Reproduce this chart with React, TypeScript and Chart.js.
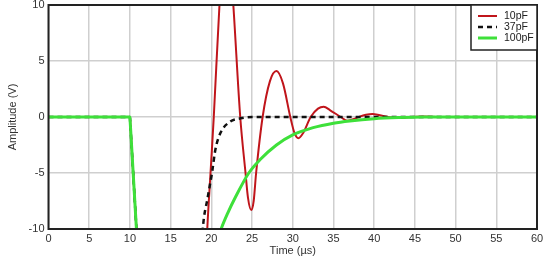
import React, { useEffect, useRef } from "react";
import { Chart, registerables } from "chart.js";

Chart.register(...registerables);

const xTicksMax = 60;
const yTicksMin = -10;
const yTicksMax = 10;
const tickStep = 5;

const seriesLabels = ["10pF", "37pF", "100pF"];
const seriesColors = ["#c0151b", "#111111", "#3ee03a"];

const time10pF = [0, 10, 10.02, 10.8, 11.6, 19, 19.2, 19.5, 19.9, 20.3, 21.0, 21.4, 21.85, 22.3, 22.7, 23.55, 24.2, 24.5, 24.9, 25.2, 25.5, 26.3, 27.2, 28.0, 28.8, 29.7, 30.2, 30.7, 31.3, 32.2, 33.1, 33.8, 34.6, 35.9, 36.7, 37.4, 38.1, 39.0, 39.8, 40.7, 41.7, 43.0, 44.5, 46.0, 48.0, 60];
const amp10pF = [0, 0, -0.25, -10, -20, -20, -15, -10, -5, 0, 10, 14, 15.5, 14, 10, 0, -5, -7.2, -8.3, -7.5, -5, 0, 3.2, 4.1, 3.0, 0, -1.4, -1.9, -1.4, 0, 0.75, 0.92, 0.6, 0, -0.33, -0.2, 0, 0.2, 0.27, 0.15, 0, -0.1, 0, 0.05, 0, 0];

const time37pF = [0, 10, 10.02, 10.8, 11.6, 18.2, 18.6, 19.0, 19.5, 20.1, 20.5, 21.1, 22.3, 23.6, 25.0, 60];
const amp37pF = [0, 0, -0.25, -10, -20, -20, -14, -9.6, -7.4, -4.9, -2.9, -1.46, -0.42, -0.12, 0, 0];

const time100pF = [0, 10, 10.02, 10.8, 11.6, 19.0, 19.3, 20.2, 21.2, 22.0, 23.0, 24.6, 26.0, 28.0, 30.0, 32.5, 35.0, 37.0, 40.0, 43.0, 46.0, 60];
const amp100pF = [0, 0, -0.25, -10, -20, -20, -15.5, -12.3, -10, -8.6, -7.1, -5, -3.8, -2.5, -1.6, -0.95, -0.55, -0.35, -0.15, -0.05, 0, 0];

const toPoints = (xs: number[], ys: number[]) => xs.map((x, i) => ({ x, y: ys[i] }));

const framePlugin = {
  id: "frame",
  afterDatasetsDraw(chart: any) {
    const { ctx, chartArea } = chart;
    ctx.save();
    ctx.strokeStyle = "#222";
    ctx.lineWidth = 2;
    ctx.strokeRect(chartArea.left, chartArea.top, chartArea.right - chartArea.left, chartArea.bottom - chartArea.top);
    ctx.restore();
  },
};

const legendPlugin = {
  id: "boxLegend",
  afterDraw(chart: any) {
    const { ctx, chartArea } = chart;
    const w = 66;
    const h = 45;
    const x0 = chartArea.right - w;
    const y0 = chartArea.top;
    ctx.save();
    ctx.fillStyle = "#fff";
    ctx.fillRect(x0, y0, w, h);
    ctx.strokeStyle = "#222";
    ctx.lineWidth = 1.5;
    ctx.strokeRect(x0, y0, w, h);
    ctx.font = "10.5px 'Liberation Sans', Arial, sans-serif";
    ctx.textBaseline = "middle";
    ctx.textAlign = "left";
    chart.data.datasets.forEach((ds: any, i: number) => {
      const y = y0 + 11 + i * 11;
      ctx.strokeStyle = ds.borderColor;
      ctx.lineWidth = ds.borderWidth;
      ctx.setLineDash(ds.borderDash || []);
      ctx.beginPath();
      ctx.moveTo(x0 + 7, y);
      ctx.lineTo(x0 + 26, y);
      ctx.stroke();
      ctx.setLineDash([]);
      ctx.fillStyle = "#222";
      ctx.fillText(ds.label, x0 + 33, y + 0.5);
    });
    ctx.restore();
  },
};

export default function App() {
  const canvasRef = useRef<HTMLCanvasElement | null>(null);

  useEffect(() => {
    if (!canvasRef.current) return;
    const font = { family: "'Liberation Sans', Arial, sans-serif", size: 11 };
    const chart = new Chart(canvasRef.current, {
      type: "line",
      data: {
        datasets: [
          {
            label: seriesLabels[0],
            data: toPoints(time10pF, amp10pF),
            borderColor: seriesColors[0],
            borderWidth: 2,
            pointRadius: 0,
            cubicInterpolationMode: "monotone",
            order: 2,
          },
          {
            label: seriesLabels[1],
            data: toPoints(time37pF, amp37pF),
            borderColor: seriesColors[1],
            borderWidth: 2.5,
            borderDash: [5, 4],
            pointRadius: 0,
            cubicInterpolationMode: "monotone",
            order: 1,
          },
          {
            label: seriesLabels[2],
            data: toPoints(time100pF, amp100pF),
            borderColor: seriesColors[2],
            borderWidth: 3,
            pointRadius: 0,
            cubicInterpolationMode: "monotone",
            order: 0,
          },
        ],
      },
      options: {
        animation: false,
        responsive: false,
        maintainAspectRatio: false,
        layout: { padding: { top: 5, right: 13, left: 0, bottom: 0 } },
        plugins: {
          legend: { display: false },
          tooltip: { enabled: false },
        },
        scales: {
          x: {
            type: "linear",
            min: 0,
            max: xTicksMax,
            ticks: { stepSize: tickStep, color: "#333", font, padding: 3 },
            grid: { color: "#cfcfcf", lineWidth: 1.5, drawTicks: false },
            border: { display: false },
            title: { display: true, text: "Time (µs)", color: "#333", font, padding: { top: 0, bottom: 2 } },
            afterFit(scale: any) {
              scale.height = 31;
            },
          },
          y: {
            type: "linear",
            min: yTicksMin,
            max: yTicksMax,
            ticks: { stepSize: tickStep, color: "#333", font, padding: 4 },
            grid: { color: "#cfcfcf", lineWidth: 1.5, drawTicks: false },
            border: { display: false },
            title: { display: true, text: "Amplitude (V)", color: "#333", font, padding: { top: 6, bottom: 0 } },
            afterFit(scale: any) {
              scale.width = 48.5;
              scale.paddingTop = 0;
              scale.paddingBottom = 0;
            },
          },
        },
      },
      plugins: [framePlugin, legendPlugin],
    } as any);
    return () => chart.destroy();
  }, []);

  return (
    <div style={{ position: "fixed", left: 0, top: 0, width: 550, height: 260, background: "#fff" }}>
      <canvas ref={canvasRef} width={550} height={260} style={{ width: 550, height: 260 }} />
    </div>
  );
}
